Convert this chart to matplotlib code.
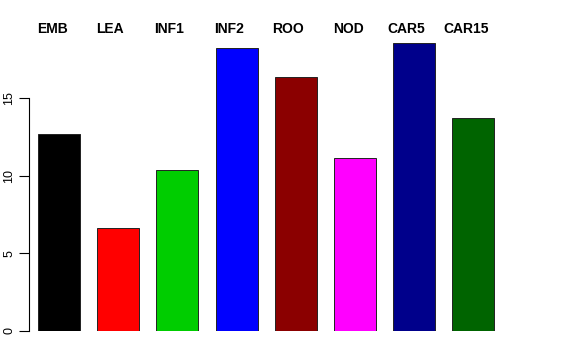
import matplotlib
matplotlib.use("Agg")
import matplotlib.pyplot as plt

categories = ["EMB", "LEA", "INF1", "INF2", "ROO", "NOD", "CAR5", "CAR15"]
values = [12.68, 6.63, 10.37, 18.22, 16.35, 11.14, 18.54, 13.72]
colors = ["#000000", "#FF0000", "#00CD00", "#0000FF",
          "#8B0000", "#FF00FF", "#00008B", "#006400"]
label_x = [52, 110, 169, 229, 288, 348, 406, 466]  # text centres in pixels

plt.rcParams["font.family"] = ["Liberation Sans", "DejaVu Sans"]

fig = plt.figure(figsize=(5.76, 3.6), dpi=100)
ax = fig.add_axes([29 / 576, 29 / 360, (540 - 29) / 576, (331 - 43) / 360])

x = list(range(len(categories)))
ax.bar(x, values, width=0.71, color=colors, edgecolor="#222222", linewidth=0.7)

ax.set_xlim((29 - 59) / 59.2, (540 - 59) / 59.2)
ax.set_ylim(0, max(values))

for s in ["top", "right", "bottom"]:
    ax.spines[s].set_visible(False)
ax.spines["left"].set_bounds(0, 15)
ax.spines["left"].set_linewidth(0.8)

ax.set_xticks([])
ax.set_yticks([0, 5, 10, 15])
ax.tick_params(axis="y", length=7, width=0.8, pad=3, labelsize=9)
for lab in ax.get_yticklabels():
    lab.set_rotation(90)
    lab.set_va("center")

for name, px in zip(categories, label_x):
    fig.text(px / 576, 1 - 29 / 360, name, ha="center", va="center",
             fontsize=10, fontweight="bold")

fig.savefig("out.png", dpi=100)
